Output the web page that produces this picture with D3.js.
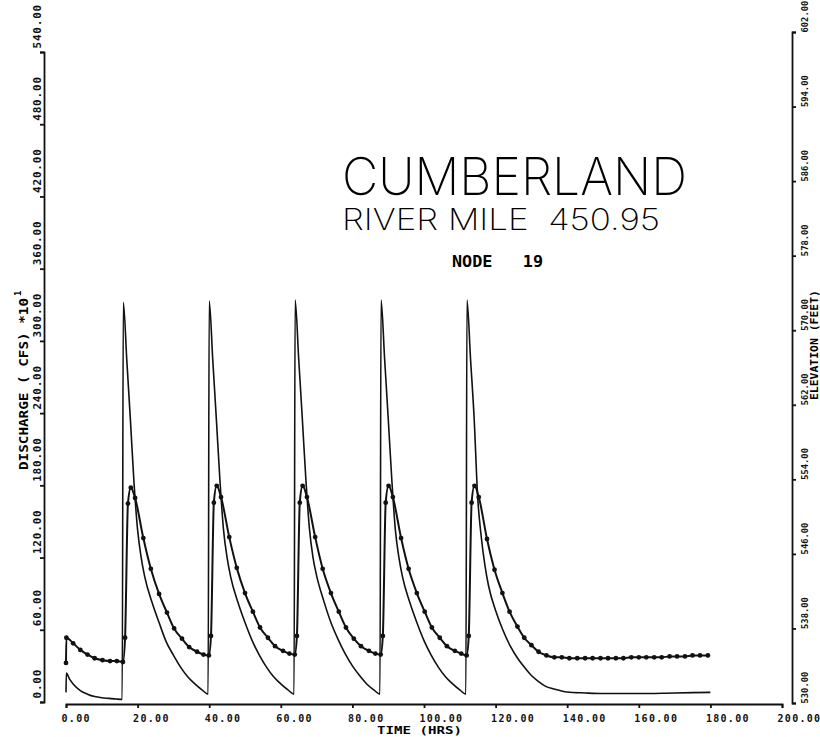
<!DOCTYPE html>
<html>
<head>
<meta charset="utf-8">
<script src="https://cdn.jsdelivr.net/npm/d3@7"></script>
<style>
  body { margin: 0; background: #fff; }
  svg { display: block; }
  .axis .domain, .axis .tick line { stroke: #111; stroke-width: 1.8; }
</style>
</head>
<body>
<svg id="chart" width="820" height="737"></svg>
<script>
// tick values for the three axes
const timeTicks = [0, 20, 40, 60, 80, 100, 120, 140, 160, 180, 200];
const dischargeTicks = [0, 60, 120, 180, 240, 300, 360, 420, 480, 540];
const elevationTicks = [530, 538, 546, 554, 562, 570, 578, 586, 594, 602];

// discharge (cfs * 10) - plain line
const dischargeTime = [
  0, 0.1, 1, 2, 4, 6, 8, 10, 12, 14, 15.7,
  16, 17, 18, 19, 20, 21, 22, 24, 26, 28, 30, 32, 34, 36, 38, 39.7,
  40, 41, 42, 43, 44, 45, 46, 48, 50, 52, 54, 56, 58, 60, 62, 63.7,
  64, 65, 66, 67, 68, 69, 70, 72, 74, 76, 78, 80, 82, 84, 86, 87.7,
  88, 89, 90, 91, 92, 93, 94, 96, 98, 100, 102, 104, 106, 108, 110, 111.7,
  112, 113, 114, 115, 116, 117, 118, 120, 122, 124, 126, 128, 130, 132, 134, 136, 138, 140,
  145, 150, 160, 170, 180];
const dischargeValue = [
  8, 24, 19, 15, 9.5, 6.5, 4.5, 3.5, 3, 2.5, 2.2,
  332, 283, 234, 182, 143, 120, 104, 83, 66, 50, 39, 29, 21, 15, 10, 6.5,
  333, 284, 235, 184, 143, 120, 104, 83, 66, 51, 39, 29, 21, 15, 10, 6.5,
  334, 285, 236, 185, 144, 120, 105, 84, 66, 52, 40, 30, 22, 15, 10, 6.5,
  334, 285, 236, 185, 143, 120, 104, 83, 66, 51, 39, 29, 21, 15, 10, 6.5,
  334, 285, 236, 170, 137, 114, 97, 76, 60, 47, 37, 29, 22, 17, 13, 11, 9.5, 8.3,
  7.5, 7, 7, 7.5, 8];

// water surface elevation (feet) - line with dot markers
const elevationTime = [
  0, 0.1, 2, 4, 6, 8, 10.2, 12.3, 14.2, 15.9,
  16.5, 17.3, 18.1, 19.3, 21.6, 23.7, 26, 28.2, 30.2, 32.4, 34.4, 36.6, 38.4, 39.9,
  40.5, 41.3, 42.1, 43.3, 45.6, 47.7, 50, 52.2, 54.2, 56.4, 58.4, 60.6, 62.4, 63.9,
  64.5, 65.3, 66.1, 67.3, 69.6, 71.7, 74, 76.2, 78.2, 80.4, 82.4, 84.6, 86.4, 87.9,
  88.5, 89.3, 90.1, 91.3, 93.6, 95.7, 98, 100.2, 102.2, 104.4, 106.4, 108.6, 110.4, 111.9,
  112.5, 113.3, 114.1, 115.3, 117.6, 119.7, 121.9, 123.9, 126.1, 128, 130, 132, 134.2, 136.4,
  138.5, 140.6, 142.8, 145, 147.1, 149.3, 151.4, 153.6, 155.7, 157.9, 160, 162.1, 164.3,
  166.4, 168.6, 170.7, 172.9, 175, 177.1, 179.3];
const elevationValue = [
  534.3, 537.0, 536.4, 535.7, 535.2, 534.8, 534.6, 534.5, 534.5, 534.4,
  537.0, 551.4, 553.1, 552.0, 547.7, 544.4, 541.7, 539.7, 538.0, 536.9, 536.0, 535.5, 535.2, 535.1,
  537.2, 551.5, 553.3, 552.1, 547.8, 544.5, 541.8, 539.8, 538.1, 537.0, 536.1, 535.6, 535.3, 535.2,
  537.2, 551.5, 553.3, 552.1, 547.8, 544.4, 541.8, 539.8, 538.1, 536.9, 536.1, 535.6, 535.3, 535.2,
  537.2, 551.5, 553.3, 552.1, 547.7, 544.4, 541.8, 539.8, 538.1, 537.0, 536.1, 535.6, 535.3, 535.1,
  537.2, 551.5, 553.3, 552.1, 547.6, 544.3, 541.8, 539.8, 538.2, 537.0, 536.2, 535.5, 535.1, 534.9,
  534.9, 534.8, 534.8, 534.8, 534.8, 534.8, 534.8, 534.8, 534.8, 534.9, 534.9, 534.9, 534.9,
  534.9, 535.0, 535.0, 535.0, 535.1, 535.1, 535.1];

const svg = d3.select('#chart');
const g = svg.append('g');

// scales
const xScale = d3.scaleLinear().domain([0, 200]).range([66, 782]);
const yLeft = d3.scaleLinear().domain([0, 540]).range([702, 52]);
const yRight = d3.scaleLinear().domain([530, 602]).range([703, 32]);

const fmt = d => d.toFixed(2);
const tickFont = 'DejaVu Sans Mono, monospace';

// bottom axis
const xAxis = g.append('g')
  .attr('class', 'axis')
  .attr('transform', 'translate(0,704)')
  .call(d3.axisBottom(xScale).tickValues(timeTicks).tickFormat(fmt).tickSize(4).tickSizeOuter(4));
xAxis.attr('font-family', tickFont).attr('font-size', 10).attr('font-weight', 'bold');
xAxis.selectAll('text')
  .attr('text-anchor', 'start')
  .attr('x', -5)
  .attr('y', 18)
  .attr('dy', null)
  .attr('letter-spacing', 1.3)
  .attr('fill', '#111');

// left axis (discharge)
const leftAxis = g.append('g')
  .attr('class', 'axis')
  .attr('transform', 'translate(44,0)')
  .call(d3.axisLeft(yLeft).tickValues(dischargeTicks).tickFormat(fmt).tickSize(4).tickSizeOuter(4));
leftAxis.attr('font-family', tickFont).attr('font-size', 11).attr('font-weight', 'bold');
leftAxis.selectAll('text')
  .attr('x', null)
  .attr('dy', null)
  .attr('text-anchor', 'start')
  .attr('letter-spacing', 0.8)
  .attr('fill', '#111')
  .attr('transform', 'translate(-3,-4) rotate(-90)');

// right axis (elevation)
const rightAxis = g.append('g')
  .attr('class', 'axis')
  .attr('transform', 'translate(792,0)')
  .call(d3.axisRight(yRight).tickValues(elevationTicks).tickFormat(fmt).tickSize(4).tickSizeOuter(4));
rightAxis.attr('font-family', tickFont).attr('font-size', 8.8).attr('font-weight', 'bold');
rightAxis.selectAll('text')
  .attr('x', null)
  .attr('dy', null)
  .attr('text-anchor', 'start')
  .attr('fill', '#111')
  .attr('transform', 'translate(16,0) rotate(-90)');

// axis titles
g.append('text')
  .attr('transform', 'translate(28,470) rotate(-90)')
  .attr('font-family', tickFont).attr('font-size', 13).attr('font-weight', 'bold')
  .attr('textLength', 172).attr('lengthAdjust', 'spacingAndGlyphs')
  .text('DISCHARGE ( CFS) *10');
g.append('text')
  .attr('transform', 'translate(21,296) rotate(-90)')
  .attr('font-family', tickFont).attr('font-size', 9).attr('font-weight', 'bold')
  .text('1');

g.append('text')
  .attr('transform', 'translate(818,400) rotate(-90)')
  .attr('font-family', tickFont).attr('font-size', 11).attr('font-weight', 'bold')
  .attr('textLength', 110).attr('lengthAdjust', 'spacingAndGlyphs')
  .text('ELEVATION (FEET)');

g.append('text')
  .attr('x', 377).attr('y', 734)
  .attr('font-family', tickFont).attr('font-size', 10).attr('font-weight', 'bold')
  .attr('textLength', 85).attr('lengthAdjust', 'spacingAndGlyphs')
  .text('TIME (HRS)');

// titles
const titleFont = 'Inter, DejaVu Sans, sans-serif';
g.append('text')
  .attr('x', 342).attr('y', 195)
  .attr('font-family', titleFont).attr('font-size', 52).attr('font-weight', 250)
  .attr('textLength', 345).attr('lengthAdjust', 'spacingAndGlyphs')
  .text('CUMBERLAND');
g.append('text')
  .attr('x', 342).attr('y', 230)
  .attr('font-family', titleFont).attr('font-size', 30).attr('font-weight', 250)
  .attr('textLength', 318).attr('lengthAdjust', 'spacingAndGlyphs')
  .style('white-space', 'pre')
  .text('RIVER MILE  450.95');
g.append('text')
  .attr('x', 452).attr('y', 267)
  .attr('font-family', tickFont).attr('font-size', 15).attr('font-weight', 'bold')
  .attr('textLength', 91).attr('lengthAdjust', 'spacingAndGlyphs')
  .style('white-space', 'pre')
  .text('NODE   19');

// discharge line
const dischargeLine = d3.line()
  .x(i => xScale(dischargeTime[i]))
  .y(i => yLeft(dischargeValue[i]))
  .curve(d3.curveMonotoneX);

g.append('path')
  .attr('d', dischargeLine(d3.range(dischargeTime.length)))
  .attr('fill', 'none')
  .attr('stroke', '#111')
  .attr('stroke-width', 1.6);

// elevation line + dots
const elevationLine = d3.line()
  .x(i => xScale(elevationTime[i]))
  .y(i => yRight(elevationValue[i]))
  .curve(d3.curveMonotoneX);

g.append('path')
  .attr('d', elevationLine(d3.range(elevationTime.length)))
  .attr('fill', 'none')
  .attr('stroke', '#111')
  .attr('stroke-width', 2);

g.append('g')
  .selectAll('circle')
  .data(d3.range(elevationTime.length))
  .join('circle')
  .attr('cx', i => xScale(elevationTime[i]))
  .attr('cy', i => yRight(elevationValue[i]))
  .attr('r', 2.4)
  .attr('fill', '#111');
</script>
</body>
</html>
